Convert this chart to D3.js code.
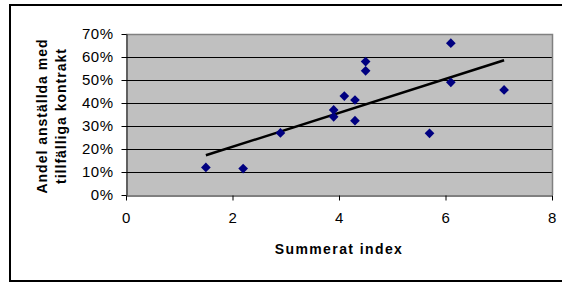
<!DOCTYPE html>
<html>
<head>
<meta charset="utf-8">
<script src="https://cdn.jsdelivr.net/npm/d3@7"></script>
<style>
    body { margin: 0; background: #fff; }
    svg { display: block; font-family: 'Liberation Sans', Arial, sans-serif; }
</style>
</head>
<body>
<div id="chart"></div>
<script>
// Summerat index (x) vs share of temporary contracts (y, %)
const indexValues = [1.5, 2.2, 2.9, 3.9, 3.9, 4.1, 4.3, 4.3, 4.5, 4.5, 5.7, 6.1, 6.1, 7.1];
const shareValues = [12, 11.5, 27, 37, 34, 43, 41.3, 32.3, 58, 54, 26.8, 66, 49, 45.7];
const xTicks = [0, 2, 4, 6, 8];
const yTicks = [0, 10, 20, 30, 40, 50, 60, 70];
const xTitle = 'Summerat index';
const yTitleLines = ['Andel anställda med', 'tillfälliga kontrakt'];

const width = 562, height = 282;
const plot = { left: 126, right: 552, top: 34, bottom: 195 };

const svg = d3.select('#chart').append('svg').attr('width', width).attr('height', height);

// outer chart border (right edge falls outside the picture)
svg.append('rect')
    .attr('x', 10).attr('y', 5)
    .attr('width', 570).attr('height', 276)
    .attr('fill', '#fff').attr('stroke', '#000').attr('stroke-width', 2);

const x = d3.scaleLinear().domain([0, 8]).range([plot.left, plot.right]);
const y = d3.scaleLinear().domain([0, 70]).range([plot.bottom, plot.top]);

svg.append('rect')
    .attr('x', plot.left).attr('y', plot.top)
    .attr('width', plot.right - plot.left).attr('height', plot.bottom - plot.top)
    .attr('fill', '#c0c0c0');

// gridlines
svg.append('g').selectAll('line')
    .data(yTicks.filter(d => d > 0 && d < 70))
    .enter().append('line')
    .attr('x1', plot.left).attr('x2', plot.right)
    .attr('y1', d => y(d) + 0.5).attr('y2', d => y(d) + 0.5)
    .attr('stroke', '#000').attr('stroke-width', 1);

// plot frame top/right
svg.append('path')
    .attr('d', `M${plot.left},${plot.top + 0.5}H${plot.right + 0.5}V${plot.bottom}`)
    .attr('fill', 'none').attr('stroke', '#808080').attr('stroke-width', 1.5);

const yAxis = svg.append('g')
    .attr('transform', `translate(${plot.left + 0.5},0)`)
    .call(d3.axisLeft(y).tickValues(yTicks).tickFormat(d => d + '%').tickSize(5).tickSizeOuter(0).tickPadding(8));

const xAxis = svg.append('g')
    .attr('transform', `translate(0,${plot.bottom + 0.5})`)
    .call(d3.axisBottom(x).tickValues(xTicks).tickFormat(d3.format('d')).tickSize(5).tickSizeOuter(0).tickPadding(12));

[xAxis, yAxis].forEach(a => {
    a.select('.domain').attr('stroke', '#000').attr('stroke-width', 1);
    a.selectAll('.tick line').attr('stroke', '#000');
    a.selectAll('.tick text')
        .attr('font-family', "'Liberation Sans', Arial, sans-serif")
        .attr('font-size', 15).attr('letter-spacing', 0.5).attr('fill', '#000');
});

// trend line (least squares)
const n = indexValues.length;
const mx = d3.mean(indexValues), my = d3.mean(shareValues);
let sxy = 0, sxx = 0;
for (let i = 0; i < n; i++) {
    sxy += (indexValues[i] - mx) * (shareValues[i] - my);
    sxx += (indexValues[i] - mx) ** 2;
}
const slope = sxy / sxx, icpt = my - slope * mx;
const [x0, x1] = d3.extent(indexValues);
svg.append('line')
    .attr('x1', x(x0)).attr('y1', y(icpt + slope * x0))
    .attr('x2', x(x1)).attr('y2', y(icpt + slope * x1))
    .attr('stroke', '#000').attr('stroke-width', 2.5);

// points
const diamond = d3.symbol().type(d3.symbolDiamond2).size(60);
svg.append('g').selectAll('path')
    .data(indexValues.map((v, i) => [v, shareValues[i]]))
    .enter().append('path')
    .attr('d', diamond)
    .attr('transform', d => `translate(${x(d[0])},${y(d[1])})`)
    .attr('fill', '#000080');

// axis titles
svg.append('text')
    .attr('x', (plot.left + plot.right) / 2).attr('y', 254)
    .attr('text-anchor', 'middle')
    .attr('font-size', 14).attr('font-weight', 'bold').attr('letter-spacing', 1.4)
    .text(xTitle);

const yt = svg.append('text')
    .attr('transform', 'translate(47,116) rotate(-90)')
    .attr('text-anchor', 'middle')
    .attr('font-size', 14).attr('font-weight', 'bold').attr('letter-spacing', 1);
yTitleLines.forEach((t, i) => {
    yt.append('tspan').attr('x', 0).attr('y', i * 19).text(t);
});
</script>
</body>
</html>
